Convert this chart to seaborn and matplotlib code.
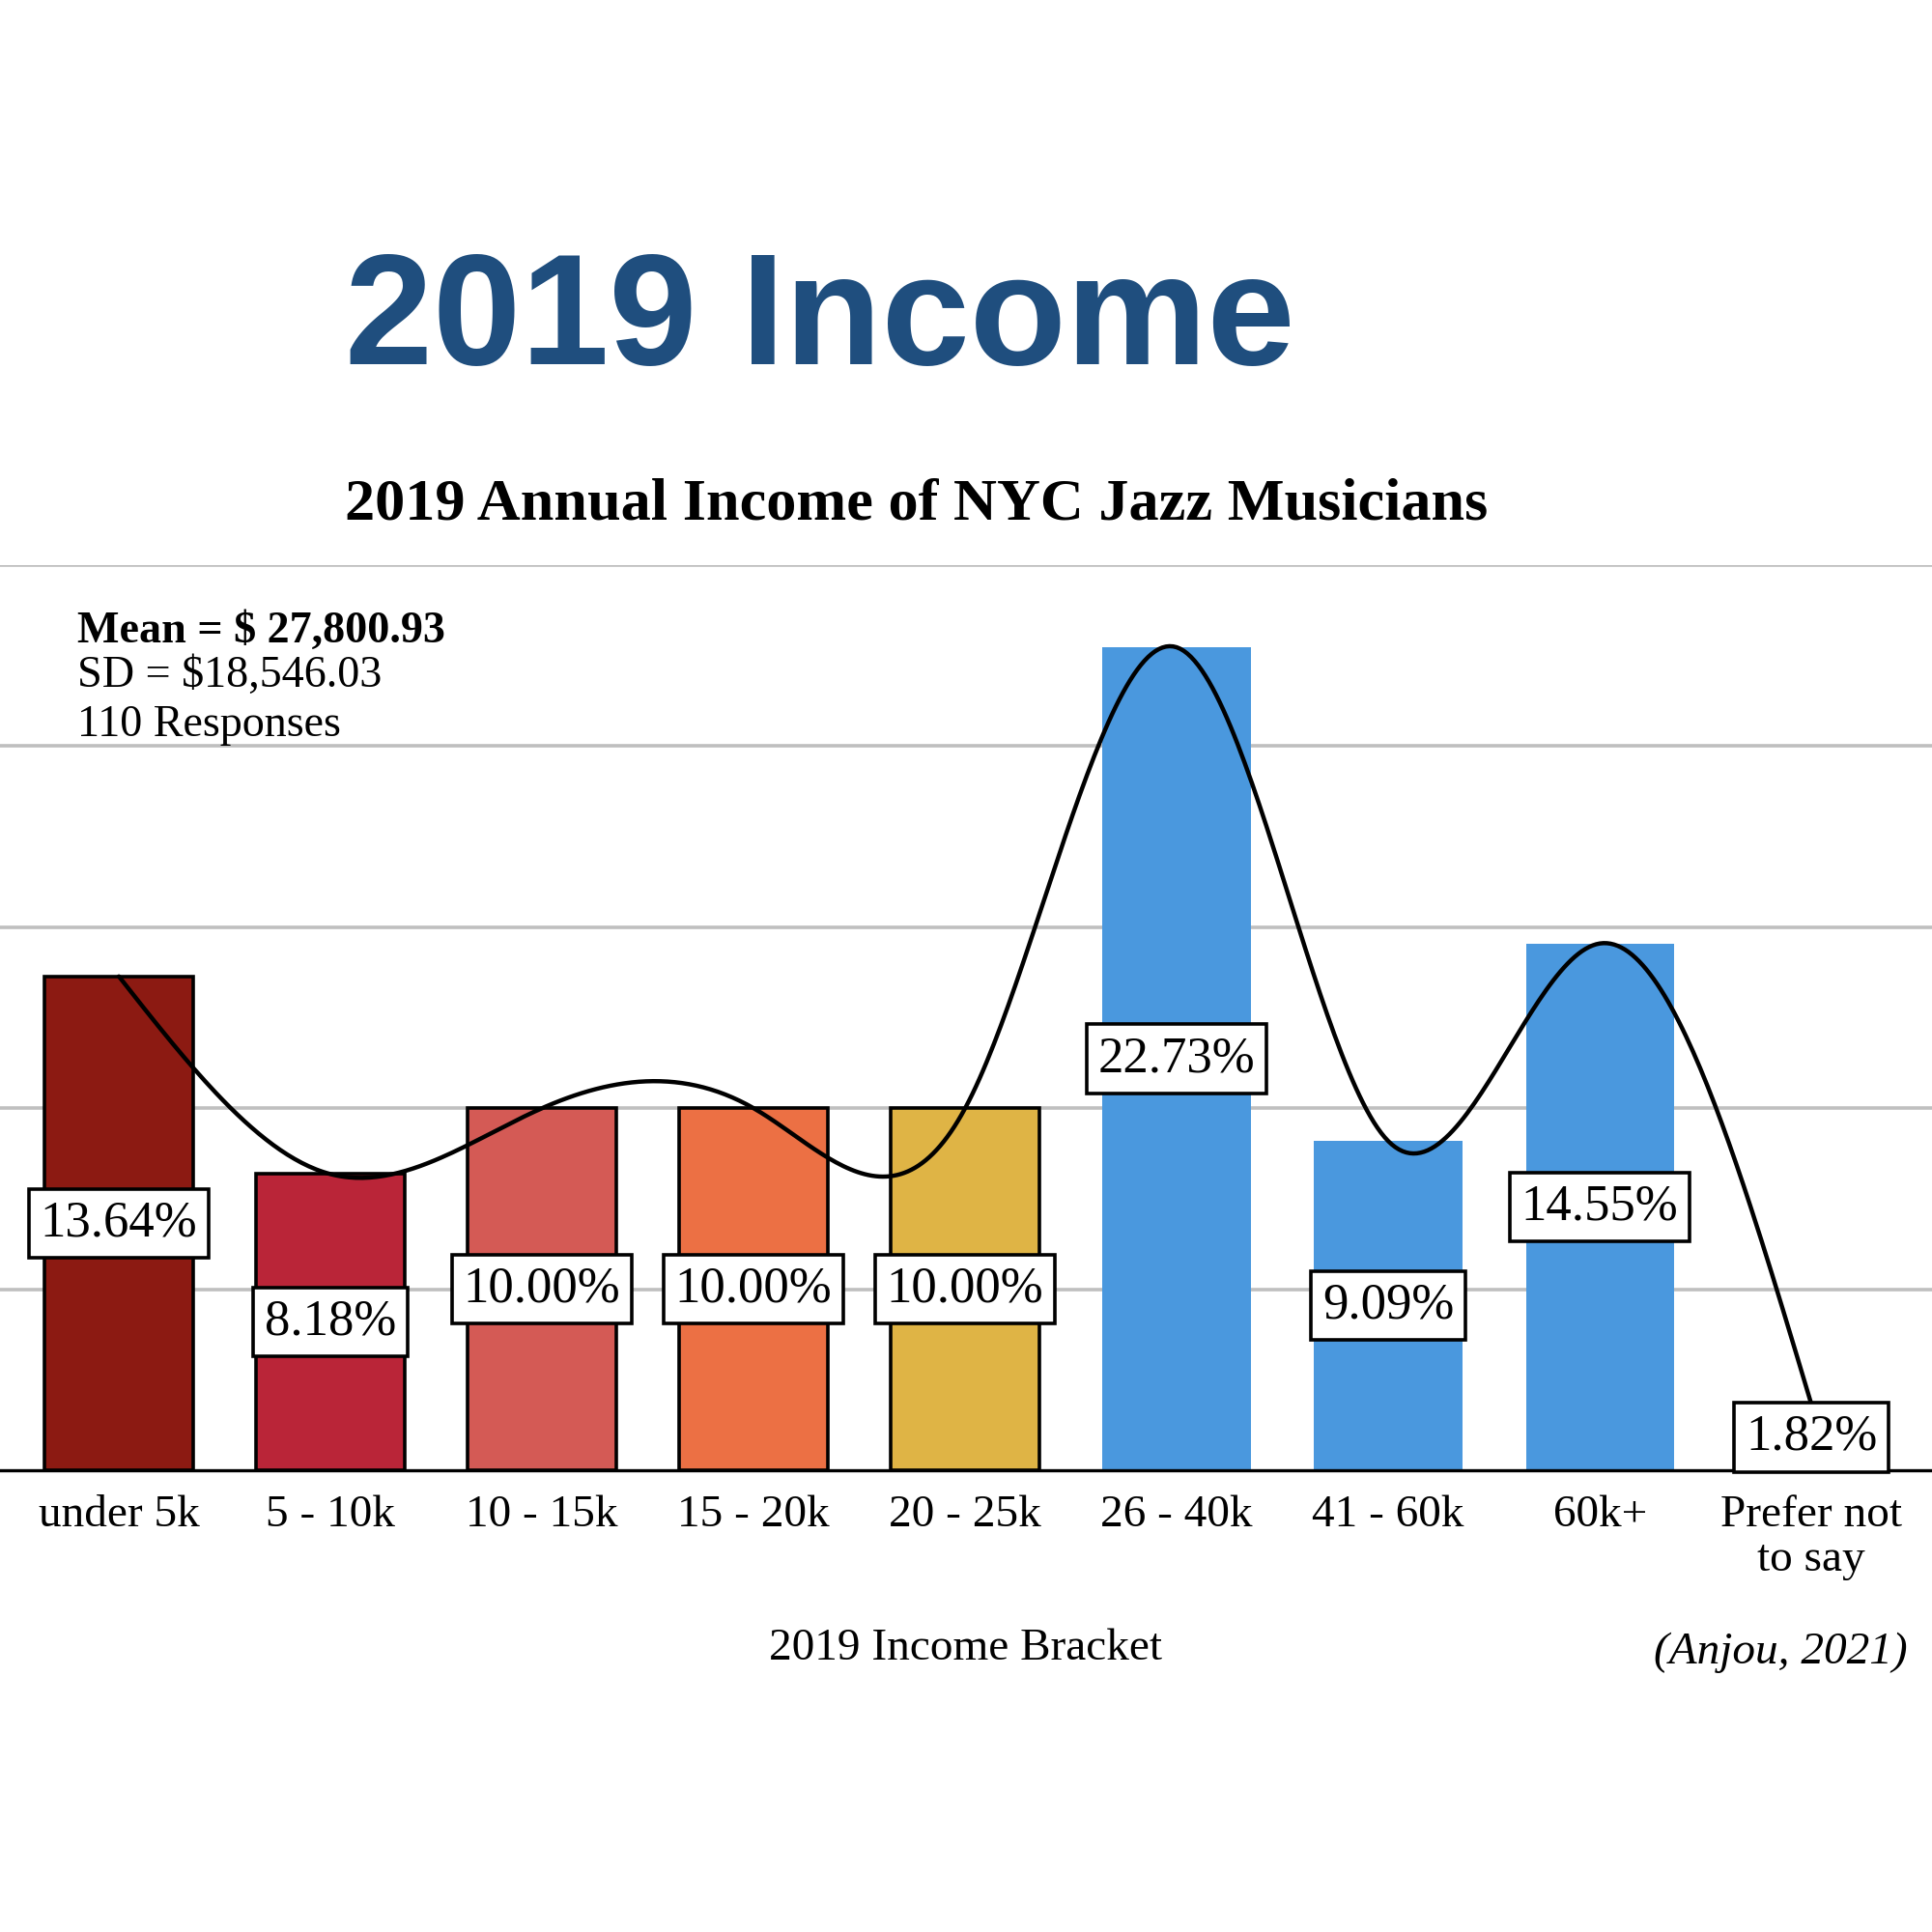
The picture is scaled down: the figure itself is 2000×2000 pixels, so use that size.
import numpy as np
import pandas as pd
import matplotlib
matplotlib.use("Agg")
import matplotlib.pyplot as plt
import seaborn as sns

# ---- data ----
categories = ["under 5k", "5 - 10k", "10 - 15k", "15 - 20k", "20 - 25k",
              "26 - 40k", "41 - 60k", "60k+", "Prefer not\nto say"]
percents = [13.64, 8.18, 10.00, 10.00, 10.00, 22.73, 9.09, 14.55, 1.82]
bar_colors = ["#8C1A12", "#BA2538", "#D45A55", "#EC7044", "#DFB445",
              "#4A98DE", "#4A98DE", "#4A98DE", "#4A98DE"]
edged = [True, True, True, True, True, False, False, False, False]
grid_ticks = [5, 10, 15, 20, 25]

title_text = "2019 Income"
subtitle_text = "2019 Annual Income of NYC Jazz Musicians"
stats_lines = ["Mean = $ 27,800.93", "SD = $18,546.03", "110 Responses"]
xlabel_text = "2019 Income Bracket"
source_text = "(Anjou, 2021)"

sns.set_style("white")
plt.rcParams["font.family"] = ["Liberation Serif", "DejaVu Serif"]
plt.rcParams["text.color"] = "black"
plt.rcParams["xtick.color"] = "black"
plt.rcParams["xtick.labelcolor"] = "black"

df = pd.DataFrame({"bracket": categories, "pct": percents})

fig = plt.figure(figsize=(10, 10), dpi=200)
ax = fig.add_axes([0.0, 0.239, 1.0, 0.4685])

sns.barplot(data=df, x="bracket", y="pct", hue="bracket",
            palette=bar_colors, legend=False, width=0.70, ax=ax,
            saturation=1.0)

for patch, e in zip(ax.patches, edged):
    if e:
        patch.set_edgecolor("black")
        patch.set_linewidth(1.3)
    else:
        patch.set_linewidth(0)

# natural cubic spline through the bar tops (smoothed line)
xs = np.arange(len(percents), dtype=float)
ys = np.array(percents, dtype=float)
n = len(xs)
A = np.zeros((n, n))
rhs = np.zeros(n)
A[0, 0] = 1.0
A[-1, -1] = 1.0
for i in range(1, n - 1):
    A[i, i - 1] = 1.0
    A[i, i] = 4.0
    A[i, i + 1] = 1.0
    rhs[i] = 6.0 * (ys[i + 1] - 2 * ys[i] + ys[i - 1])
M = np.linalg.solve(A, rhs)
cx, cy = [], []
for i in range(n - 1):
    t = np.linspace(0, 1, 60)
    s = ((1 - t) * ys[i] + t * ys[i + 1]
         + ((1 - t) ** 3 - (1 - t)) * M[i] / 6.0
         + (t ** 3 - t) * M[i + 1] / 6.0)
    cx.extend(i + t)
    cy.extend(s)
ax.plot(cx, cy, color="black", lw=1.6, zorder=4, solid_capstyle="round")

# value labels
for i, v in enumerate(percents):
    ax.text(i, v / 2.0, f"{v:.2f}%", ha="center", va="center",
            fontsize=19, color="black", zorder=6,
            bbox=dict(boxstyle="square,pad=0.22", fc="white",
                      ec="black", lw=1.3))

ax.set_xlim(-0.562, 8.57)
ax.set_ylim(0, 25)
ax.set_yticks(grid_ticks)
ax.yaxis.grid(True, color="#BFBFBF", lw=1.3)
ax.xaxis.grid(False)
ax.set_axisbelow(True)
ax.tick_params(axis="y", left=False, labelleft=False)
ax.tick_params(axis="x", length=0, pad=9, labelsize=17, labelcolor="black")
for lbl in ax.get_xticklabels():
    lbl.set_linespacing(1.12)
for side in ["left", "right", "top"]:
    ax.spines[side].set_visible(False)
ax.spines["bottom"].set_color("black")
ax.spines["bottom"].set_linewidth(1.2)
ax.set_xlabel("")
ax.set_ylabel("")

# titles and annotations
fig.text(0.1785, 0.8115, title_text, ha="left", va="baseline",
         fontsize=59, fontweight="bold", color="#1F4E7E",
         family=["Liberation Sans", "DejaVu Sans"])
fig.text(0.4745, 0.7385, subtitle_text, ha="center", va="center",
         fontsize=22.4, fontweight="bold", color="black")
fig.text(0.04, 0.673, stats_lines[0], ha="left", va="center",
         fontsize=16.6, fontweight="bold", color="black")
fig.text(0.04, 0.650, stats_lines[1], ha="left", va="center",
         fontsize=16.6, color="black")
fig.text(0.04, 0.6245, stats_lines[2], ha="left", va="center",
         fontsize=16.6, color="black")
fig.text(0.5, 0.1465, xlabel_text, ha="center", va="center", fontsize=17,
         color="black")
fig.text(0.9875, 0.1445, source_text, ha="right", va="center",
         fontsize=17, style="italic", color="black")

fig.savefig("out.png", dpi=200, facecolor="white")
